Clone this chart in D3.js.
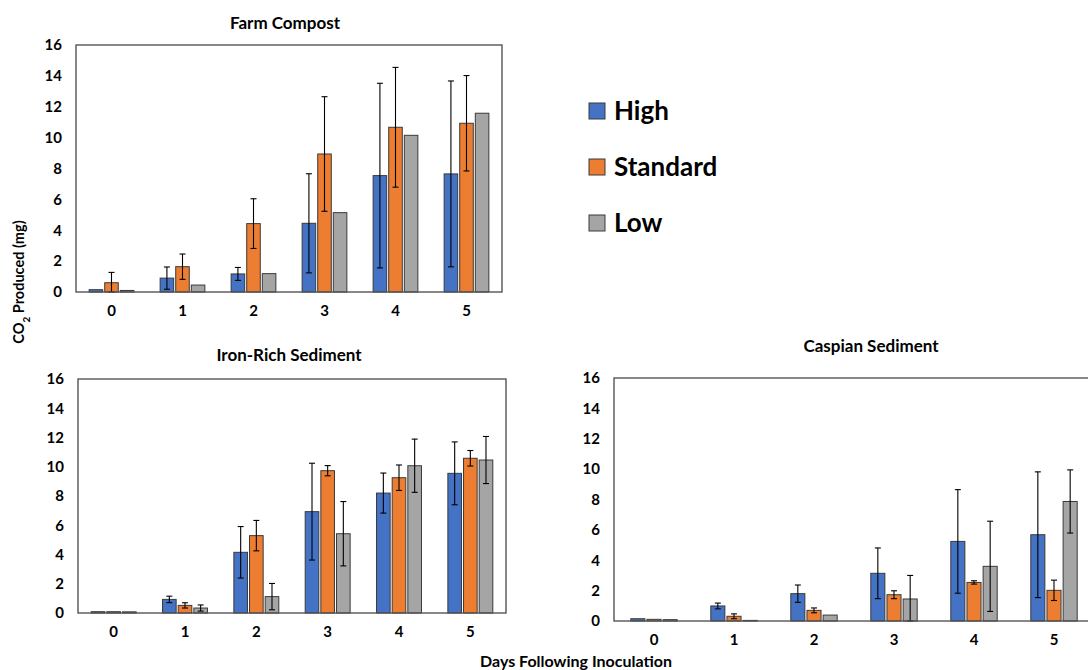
<!DOCTYPE html>
<html>
<head>
<meta charset="utf-8">
<script src="https://cdn.jsdelivr.net/npm/d3@7"></script>
<style>
  body { margin: 0; background: #fff; }
  svg { display: block; font-family: Lato, "Open Sans", sans-serif; font-weight: bold; }
</style>
</head>
<body>
<svg id="chart" width="1088" height="670"></svg>
<script>
// categories + series
var days = ["0", "1", "2", "3", "4", "5"];
var seriesNames = ["High", "Standard", "Low"];
var seriesColors = ["#4472C4", "#ED7D31", "#A5A5A5"];
var yTicks = [0, 2, 4, 6, 8, 10, 12, 14, 16];

// Farm Compost (mean, +/- error)
var farmHigh = [0.15, 0.9, 1.17, 4.45, 7.54, 7.65];
var farmHighErr = [0, 0.72, 0.42, 3.21, 5.98, 6.02];
var farmStd = [0.6, 1.64, 4.43, 8.94, 10.67, 10.93];
var farmStdErr = [0.67, 0.82, 1.61, 3.71, 3.88, 3.09];
var farmLow = [0.1, 0.45, 1.19, 5.14, 10.15, 11.58];
var farmLowErr = [0, 0, 0, 0, 0, 0];

// Iron-Rich Sediment
var ironHigh = [0.09, 0.93, 4.15, 6.93, 8.2, 9.55];
var ironHighErr = [0, 0.22, 1.76, 3.31, 1.37, 2.15];
var ironStd = [0.09, 0.52, 5.29, 9.73, 9.25, 10.58];
var ironStdErr = [0, 0.18, 1.04, 0.35, 0.87, 0.53];
var ironLow = [0.08, 0.34, 1.12, 5.42, 10.07, 10.46];
var ironLowErr = [0, 0.21, 0.9, 2.2, 1.82, 1.61];

// Caspian Sediment
var caspHigh = [0.15, 0.99, 1.8, 3.14, 5.24, 5.68];
var caspHighErr = [0, 0.19, 0.57, 1.67, 3.41, 4.14];
var caspStd = [0.11, 0.31, 0.7, 1.73, 2.54, 2.02];
var caspStdErr = [0, 0.16, 0.16, 0.26, 0.11, 0.67];
var caspLow = [0.09, 0.04, 0.39, 1.45, 3.6, 7.87];
var caspLowErr = [0, 0, 0, 1.55, 2.97, 2.08];

var svg = d3.select("#chart");

var panels = [
  { title: "Farm Compost", means: [farmHigh, farmStd, farmLow], errs: [farmHighErr, farmStdErr, farmLowErr],
    left: 76, right: 502, top: 45, bottom: 292, titleX: 285, titleY: 29, pad: 0.37 },
  { title: "Iron-Rich Sediment", means: [ironHigh, ironStd, ironLow], errs: [ironHighErr, ironStdErr, ironLowErr],
    left: 78, right: 506, top: 379, bottom: 613, titleX: 289, titleY: 361, pad: 0.37 },
  { title: "Caspian Sediment", means: [caspHigh, caspStd, caspLow], errs: [caspHighErr, caspStdErr, caspLowErr],
    left: 614, right: 1094, top: 378, bottom: 621, titleX: 871, titleY: 352, pad: 0.42 }
];

function styleTicks(sel) {
  sel.select(".domain").remove();
  sel.selectAll("text")
    .style("font-size", "15px")
    .style("font-family", "Lato, sans-serif")
    .style("font-weight", "bold")
    .attr("fill", "#000");
}

panels.forEach(function(p) {
  var x = d3.scaleBand().domain(days).range([p.left, p.right]).paddingInner(p.pad).paddingOuter(p.pad / 2);
  var xs = d3.scaleBand().domain(seriesNames).range([0, x.bandwidth()]).paddingInner(0.13);
  var y = d3.scaleLinear().domain([0, 16]).range([p.bottom, p.top]);

  var g = svg.append("g");

  g.append("text")
    .attr("x", p.titleX)
    .attr("y", p.titleY)
    .attr("text-anchor", "middle")
    .style("font-size", "17px")
    .text(p.title);

  // tick labels only, no tick marks
  g.append("g")
    .attr("transform", "translate(" + p.left + ",0)")
    .call(d3.axisLeft(y).tickValues(yTicks).tickSize(0).tickPadding(14))
    .call(styleTicks);

  g.append("g")
    .attr("transform", "translate(0," + p.bottom + ")")
    .call(d3.axisBottom(x).tickSize(0).tickPadding(13))
    .call(styleTicks);

  // bars + error bars
  seriesNames.forEach(function(s, si) {
    var rows = days.map(function(d, i) { return { day: d, v: p.means[si][i], e: p.errs[si][i] }; });
    g.append("g").selectAll("rect").data(rows).enter().append("rect")
      .attr("x", function(d) { return x(d.day) + xs(s); })
      .attr("y", function(d) { return y(d.v); })
      .attr("width", xs.bandwidth())
      .attr("height", function(d) { return y(0) - y(d.v); })
      .attr("fill", seriesColors[si])
      .attr("stroke", "#3a3a3a")
      .attr("stroke-width", 1);

    var eb = g.append("g").attr("stroke", "#000").attr("stroke-width", 1.1);
    rows.filter(function(d) { return d.e > 0; }).forEach(function(d) {
      var cx = x(d.day) + xs(s) + xs.bandwidth() / 2;
      var lo = Math.max(0, d.v - d.e), hi = d.v + d.e;
      eb.append("line").attr("x1", cx).attr("x2", cx).attr("y1", y(lo)).attr("y2", y(hi));
      eb.append("line").attr("x1", cx - 3).attr("x2", cx + 3).attr("y1", y(hi)).attr("y2", y(hi));
      eb.append("line").attr("x1", cx - 3).attr("x2", cx + 3).attr("y1", y(lo)).attr("y2", y(lo));
    });
  });

  // frame
  g.append("rect")
    .attr("x", p.left).attr("y", p.top)
    .attr("width", p.right - p.left).attr("height", p.bottom - p.top)
    .attr("fill", "none").attr("stroke", "#555").attr("stroke-width", 1.4);
});

// shared axis titles
var yl = svg.append("text")
  .attr("transform", "translate(24,282) rotate(-90)")
  .attr("text-anchor", "middle")
  .style("font-size", "14.5px");
yl.append("tspan").text("CO");
yl.append("tspan").attr("baseline-shift", "sub").style("font-size", "10px").text("2");
yl.append("tspan").text(" Produced (mg)");

svg.append("text")
  .attr("x", 576).attr("y", 667)
  .attr("text-anchor", "middle")
  .style("font-size", "16px")
  .text("Days Following Inoculation");

// legend
var legend = svg.append("g").selectAll("g").data(seriesNames).enter().append("g")
  .attr("transform", function(d, i) { return "translate(589," + (103 + i * 56) + ")"; });
legend.append("rect")
  .attr("width", 16).attr("height", 16)
  .attr("fill", function(d, i) { return seriesColors[i]; })
  .attr("stroke", "#3a3a3a").attr("stroke-width", 1);
legend.append("text")
  .attr("x", 25).attr("y", 17)
  .style("font-size", "26px")
  .text(function(d) { return d; });
</script>
</body>
</html>
